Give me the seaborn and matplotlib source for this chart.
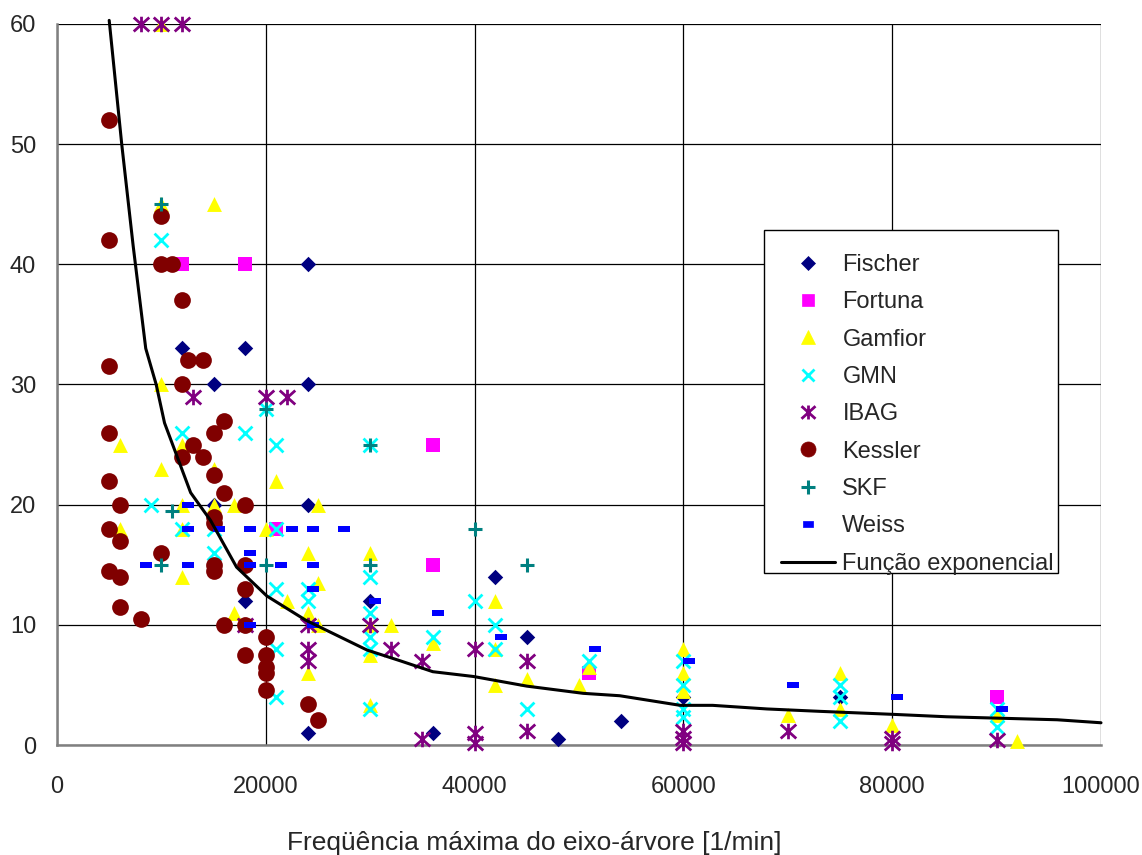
"""
Scatter of spindle speed vs. value per manufacturer, with fitted curve
"""
import numpy as np
import matplotlib
matplotlib.use("Agg")
import matplotlib.pyplot as plt
from matplotlib.lines import Line2D
from matplotlib.patches import Rectangle
from matplotlib.path import Path
import seaborn as sns

# --- data ---
fischer_x = [12000, 15000, 15000, 18000, 18000, 24000, 24000, 24000, 24000, 30000,
             36000, 42000, 45000, 48000, 54000, 60000, 75000]
fischer_y = [33, 30, 20, 33, 12, 40, 30, 20, 1, 12, 1, 14, 9, 0.5, 2, 4, 4]

fortuna_x = [12000, 18000, 21000, 36000, 36000, 51000, 90000]
fortuna_y = [40, 40, 18, 25, 15, 6, 4]

gamfior_x = [10000, 10000, 15000, 10000, 6000, 10000, 12000, 15000, 21000, 12000,
             15000, 17000, 6000, 12000, 20000, 12000, 17000, 22000, 24000, 25000,
             24000, 30000, 25000, 25000, 32000, 30000, 24000, 36000, 30000, 30000,
             42000, 42000, 42000, 45000, 50000, 51000, 60000, 60000, 60000, 70000,
             75000, 75000, 80000, 90000, 92000]
gamfior_y = [60, 45, 45, 30, 25, 23, 25, 23, 22, 20,
             20, 20, 18, 18, 18, 14, 11, 12, 11, 20,
             16, 16, 13.5, 10, 10, 7.5, 6, 8.5, 3.3, 10,
             12, 8, 5, 5.5, 5, 6.5, 8, 6, 4.5, 2.5,
             6, 3, 1.7, 2.5, 0.3]

gmn_x = [10000, 12000, 18000, 21000, 20000, 9000, 12000, 15000, 15000, 21000,
         24000, 24000, 21000, 21000, 21000, 30000, 30000, 30000, 30000, 30000,
         30000, 36000, 40000, 42000, 42000, 45000, 51000, 60000, 60000, 60000,
         60000, 75000, 75000, 75000, 90000, 90000]
gmn_y = [42, 26, 26, 25, 28, 20, 18, 18, 16, 13,
         13, 12, 18, 8, 4, 25, 14, 11, 9, 8,
         3, 9, 12, 10, 8, 3, 7, 7, 5, 3,
         2.3, 5, 4, 2, 3, 1.5]

ibag_x = [8000, 10000, 12000, 13000, 20000, 22000, 18000, 24000, 24000, 24000,
          30000, 32000, 35000, 35000, 40000, 40000, 40000, 45000, 45000, 60000,
          60000, 60000, 70000, 80000, 80000, 90000]
ibag_y = [60, 60, 60, 29, 29, 29, 10, 10, 8, 7,
          10, 8, 7, 0.5, 8, 1, 0.2, 7, 1.2, 1.2,
          0.6, 0.2, 1.2, 0.6, 0.2, 0.4]

kessler_x = [5000, 5000, 10000, 10000, 11000, 12000, 12500, 14000, 5000, 12000,
             16000, 15000, 5000, 13000, 12000, 14000, 15000, 5000, 16000, 6000,
             18000, 15000, 15000, 5000, 6000, 10000, 15000, 15000, 5000, 6000,
             18000, 18000, 6000, 8000, 16000, 18000, 18000, 20000, 20000, 20000,
             20000, 20000, 24000, 25000]
kessler_y = [52, 42, 44, 40, 40, 37, 32, 32, 31.5, 30,
             27, 26, 26, 25, 24, 24, 22.5, 22, 21, 20,
             20, 19, 18.5, 18, 17, 16, 15, 14.5, 14.5, 14,
             15, 13, 11.5, 10.5, 10, 10, 7.5, 9, 7.5, 6.5,
             6, 4.6, 3.4, 2.1]

skf_x = [10000, 20000, 11000, 10000, 20000, 30000, 30000, 40000, 45000]
skf_y = [45, 28, 19.5, 15, 15, 25, 15, 18, 15]

weiss_x = [12500, 12500, 15500, 18500, 22500, 24500, 27500, 8500, 12500, 18500,
           18500, 21500, 24500, 24500, 18500, 24500, 30500, 36500, 42500, 51500,
           60500, 70500, 80500, 90500]
weiss_y = [20, 18, 18, 18, 18, 18, 18, 15, 15, 16,
           15, 15, 15, 13, 10, 10, 12, 11, 9, 8,
           7, 5, 4, 3]

curve_x = [5000, 6200, 7300, 8500, 9500, 10300, 12800, 14700, 17200, 20100,
           23800, 29700, 32900, 36000, 39900, 45000, 50400, 53900, 59700, 62800,
           68000, 73100, 80100, 85200, 95800, 100000]
curve_y = [60.3, 50, 41.5, 33, 30, 26.8, 21, 18.7, 14.8, 12.4,
           10.4, 7.9, 7.0, 6.1, 5.7, 4.9, 4.3, 4.1, 3.3, 3.3,
           3.0, 2.8, 2.55, 2.35, 2.1, 1.85]

labels = ["Fischer", "Fortuna", "Gamfior", "GMN", "IBAG", "Kessler", "SKF", "Weiss"]
series = [(fischer_x, fischer_y), (fortuna_x, fortuna_y), (gamfior_x, gamfior_y),
          (gmn_x, gmn_y), (ibag_x, ibag_y), (kessler_x, kessler_y),
          (skf_x, skf_y), (weiss_x, weiss_y)]

# Excel-like markers: flat dash and "x with a vertical bar" asterisk
dash = [(-1, -0.55), (1, -0.55), (1, 0.55), (-1, 0.55), (-1, -0.55)]
star = Path([(0, -1), (0, 1), (-1, -0.9), (1, 0.9), (-1, 0.9), (1, -0.9)],
            [Path.MOVETO, Path.LINETO] * 3)

styles = {
    "Fischer": dict(marker="D", color="#000080", s=62, lw=0),
    "Fortuna": dict(marker="s", color="#FF00FF", s=100, lw=0),
    "Gamfior": dict(marker="^", color="#FFFF00", s=115, lw=0),
    "GMN": dict(marker="x", color="#00FFFF", s=100, lw=2),
    "IBAG": dict(marker=star, color="#800080", s=125, lw=2),
    "Kessler": dict(marker="o", color="#800000", s=145, lw=0),
    "SKF": dict(marker="+", color="#008080", s=110, lw=2.2),
    "Weiss": dict(marker=dash, color="#0000FF", s=64, lw=0),
}

sns.set_style("white")
plt.rcParams["font.family"] = ["Liberation Sans", "DejaVu Sans"]

W, H = 1142, 855
fig = plt.figure(figsize=(W / 100, H / 100), dpi=100)
ax = fig.add_axes([57 / W, 1 - 745 / H, 1044 / W, 721 / H])

for name, (xs, ys) in zip(labels, series):
    st = styles[name]
    sns.scatterplot(x=xs, y=ys, ax=ax, marker=st["marker"], s=st["s"],
                    color=st["color"], edgecolor=st["color"], linewidth=st["lw"],
                    clip_on=False, zorder=3)

sns.lineplot(x=curve_x, y=curve_y, ax=ax, color="black", lw=2.2, sort=False,
             estimator=None, zorder=4, clip_on=False)

ax.set_xlim(0, 100000)
ax.set_ylim(0, 60)
ax.set_xticks(np.arange(0, 100001, 20000))
ax.set_yticks(np.arange(0, 61, 10))
ax.grid(True, color="black", lw=0.9)
ax.set_axisbelow(True)
ax.tick_params(length=0, labelsize=17)
ax.tick_params(axis="x", pad=22)
ax.tick_params(axis="y", pad=15)
for side in ["top", "right"]:
    ax.spines[side].set_visible(False)
for side in ["left", "bottom"]:
    ax.spines[side].set_color("#808080")
    ax.spines[side].set_linewidth(1.8)
ax.set_xlabel("")
ax.set_ylabel("")

fig.text(534 / W, 1 - 843 / H, "Freqüência máxima do eixo-árvore [1/min]",
         ha="center", va="center", fontsize=19)

# legend: white box drawn by hand, entries placed inside without frame
box = Rectangle((764 / W, 1 - 573 / H), 294 / W, 343 / H, transform=fig.transFigure,
                facecolor="white", edgecolor="black", lw=1.0, zorder=5)
fig.add_artist(box)

handles = []
for name in labels:
    st = styles[name]
    ms = np.sqrt(st["s"]) * 0.9
    handles.append(Line2D([], [], ls="none", marker=st["marker"], color=st["color"],
                          markeredgecolor=st["color"], markersize=ms,
                          markeredgewidth=st["lw"] if st["lw"] else 0.5))
handles.append(Line2D([], [], color="black", lw=2.2))
leg = fig.legend(handles, labels + ["Função exponencial"], loc="upper left",
                 bbox_to_anchor=(781 / W, 1 - 254 / H), borderaxespad=0,
                 borderpad=0, fontsize=17, frameon=False,
                 labelspacing=0.65, handlelength=2.3, handletextpad=0.3)
leg.set_zorder(6)

plt.savefig("out.png", dpi=100)
